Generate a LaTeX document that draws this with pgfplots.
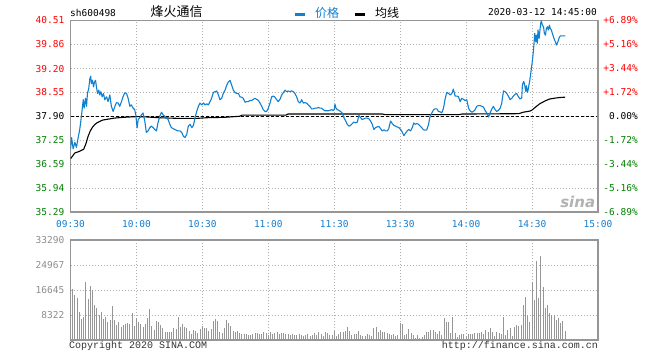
\documentclass[border=0pt]{standalone}
\usepackage{pgfplots}
\pgfplotsset{compat=1.18}
\usepackage{fontspec}
\setmainfont{DejaVu Sans Mono}
\newfontfamily\cjk{Noto Sans CJK SC}
\newfontfamily\cour{Liberation Mono}
\newfontfamily\sinafont{DejaVu Sans}
\definecolor{pblue}{RGB}{16,128,208}
\definecolor{tblue}{RGB}{20,125,205}
\definecolor{gframe}{RGB}{150,150,150}
\definecolor{ggrid}{RGB}{175,175,175}
\definecolor{vbar}{RGB}{150,150,150}
\definecolor{dgreen}{RGB}{0,128,0}
\definecolor{vred}{RGB}{255,0,0}
\newcommand{\tf}{\fontsize{9.5bp}{11bp}\selectfont}
\begin{document}
\begin{tikzpicture}[x=1bp,y=1bp]
\path[use as bounding box] (0,0) rectangle (660,360);
\pgfplotsset{
  chartbase/.style={scale only axis, width=527.5bp, xmin=0, xmax=240,
    axis line style={gframe, line width=1.2bp},
    major tick length=0pt, tick style={draw=none},
    major grid style={ggrid, line width=0.8bp, dash pattern=on 1bp off 2bp},
    ticklabel style={font=\tf},
    scaled ticks=false,
  }
}
% ---------- price panel ----------
\begin{axis}[chartbase, at={(70.5bp,148bp)}, anchor=south west, height=191.5bp,
  ymin=35.29, ymax=40.51,
  xtick={0,30,...,240},
  xticklabels={09:30,10:00,10:30,11:00,11:30,13:30,14:00,14:30,15:00},
  xticklabel style={text=tblue, anchor=north, inner sep=0pt, yshift=-8.5bp},
  ytick={35.29,35.94,36.59,37.25,37.90,38.55,39.20,39.86,40.51},
  yticklabels={\textcolor{dgreen}{35.29},\textcolor{dgreen}{35.94},\textcolor{dgreen}{36.59},\textcolor{dgreen}{37.25},37.90,\textcolor{vred}{38.55},\textcolor{vred}{39.20},\textcolor{vred}{39.86},\textcolor{vred}{40.51}},
  yticklabel style={anchor=east, inner sep=0pt, xshift=-6bp},
  grid=major,
]
\addplot[black, line width=0.9bp, dash pattern=on 3bp off 2bp] coordinates {(0,37.90) (240,37.90)};
% average line
\addplot[black, line width=1.1bp] coordinates {
(0,36.74) (1,36.82) (2,36.90) (3,36.92) (4,36.94) (5,36.97) (6,37.00) (7,37.15) (8,37.35) (9,37.50) (10,37.60) (11,37.67) (12,37.72) (13,37.75) (14,37.78) (15,37.80) (17,37.82) (20,37.85) (24,37.87) (30,37.89) (35,37.88) (40,37.86) (45,37.85) (50,37.84) (57,37.84) (62,37.86) (70,37.87) (77,37.90) (78,37.93) (98,37.93) (99,37.96) (142,37.96) (143,37.945) (177,37.945) (178,37.96) (204,37.97) (206,38.01) (209,38.04) (210,38.07) (212,38.17) (213.5,38.24) (216,38.32) (218,38.37) (220,38.39) (222.5,38.41) (225,38.42)
};
% price line
\addplot[pblue, line width=1.1bp, line join=round] coordinates {
(0,36.99) (0.5,37.32) (1.2,37.01) (2.0,37.19) (2.7,37.05) (3.5,37.32) (4.2,37.54) (4.7,37.77) (5.3,38.08) (5.8,38.35) (6.2,38.12) (6.8,38.39) (7.3,38.17) (7.7,38.52) (8.3,38.66) (8.8,38.92) (9.2,38.99) (9.5,38.79) (10.0,38.88) (10.5,38.70) (10.9,38.83) (11.4,38.88) (11.8,38.70) (12.3,38.52) (12.9,38.61) (13.3,38.48) (13.8,38.57) (14.4,38.43) (15.0,38.52) (15.6,38.35) (16.4,38.43) (17.1,38.30) (17.9,38.48) (18.6,38.17) (19.4,38.03) (20.2,38.17) (20.9,38.27) (21.7,38.26) (22.4,38.17) (23.2,38.30) (23.9,38.43) (24.7,38.54) (25.5,38.52) (26.2,38.39) (27.0,38.17) (27.7,38.21) (28.5,38.12) (29.2,38.08) (29.7,37.94) (30.3,37.58) (30.8,37.81) (31.5,37.86) (32.3,37.94) (33.0,37.99) (33.8,37.77) (34.5,37.46) (35.3,37.50) (36.1,37.59) (36.8,37.63) (37.6,37.59) (38.3,37.54) (39.1,37.50) (39.8,37.72) (40.6,37.90) (41.4,38.01) (42.1,37.94) (42.9,37.90) (43.6,37.86) (44.4,37.81) (45.2,37.68) (45.9,37.59) (47.4,37.54) (48.9,37.50) (49.8,37.50) (50.6,37.46) (51.4,37.35) (52.1,37.32) (52.9,37.41) (53.6,37.63) (54.4,37.68) (55.2,37.59) (55.9,37.65) (56.7,37.86) (57.4,38.03) (58.2,38.17) (58.9,38.26) (59.7,38.21)
(60.5,38.26) (61.2,38.21) (62.0,38.24) (62.7,38.21) (63.5,38.30) (64.2,38.39) (65.0,38.55) (65.8,38.57) (66.5,38.59) (67.3,38.48) (68.0,38.35) (68.8,38.39) (69.5,38.52) (70.3,38.61) (71.1,38.75) (71.8,38.83) (72.6,38.88) (73.3,38.75) (74.1,38.61) (74.8,38.55) (75.6,38.52) (76.4,38.52) (77.1,38.43) (77.9,38.42) (78.6,38.39) (79.4,38.28) (80.2,38.30) (80.9,38.30) (81.7,38.33) (82.4,38.33) (83.2,38.36) (83.9,38.39) (84.7,38.36) (85.5,38.33) (86.2,38.26) (87.0,38.17) (87.7,38.08) (88.5,38.03) (89.2,38.03) (90.0,38.12) (90.8,38.26) (91.5,38.43) (92.3,38.45) (93.0,38.42) (93.8,38.35) (94.5,38.30) (95.3,38.36) (96.1,38.48) (96.8,38.54) (97.6,38.61) (98.3,38.57) (99.1,38.59) (99.8,38.57) (100.6,38.59) (101.4,38.57) (102.1,38.52) (102.9,38.43) (103.6,38.30) (104.4,38.26) (105.2,38.35) (105.9,38.26) (106.7,38.27) (107.4,38.26) (108.2,38.21) (108.9,38.17) (109.7,38.10) (110.5,38.10) (111.2,38.12) (112.0,38.12) (112.7,38.14) (113.5,38.12) (114.2,38.12) (115.0,38.08) (115.8,38.05) (116.5,38.05) (117.3,38.05) (118.0,38.06) (118.8,38.08) (119.5,38.06) (120.0,38.08)
(120.3,38.23) (120.8,38.12) (121.4,38.08) (122.1,38.06) (122.9,38.03) (123.6,37.99) (124.4,37.86) (125.2,37.77) (125.9,37.68) (126.7,37.63) (127.4,37.65) (128.2,37.70) (128.9,37.74) (129.7,37.72) (130.5,37.74) (131.2,37.92) (132.0,37.86) (132.7,37.81) (133.5,37.83) (134.2,37.85) (135.0,37.85) (135.8,37.83) (136.5,37.77) (137.3,37.68) (138.0,37.54) (138.8,37.59) (139.5,37.61) (140.3,37.62) (141.1,37.56) (141.8,37.50) (142.6,37.53) (143.3,37.50) (144.1,37.50) (144.8,37.56) (145.6,37.77) (146.4,37.70) (147.1,37.65) (147.9,37.63) (148.6,37.61) (149.4,37.59) (150.2,37.54) (150.9,37.47) (151.7,37.37) (152.4,37.44) (153.2,37.50) (153.9,37.54) (154.7,37.50) (155.5,37.59) (156.2,37.72) (156.8,37.68) (157.6,37.70) (158.3,37.68) (159.1,37.63) (159.8,37.59) (160.6,37.53) (161.4,37.52) (162.1,37.53) (162.9,37.68) (163.6,37.90) (164.4,37.99) (165.2,38.08) (165.9,38.10) (166.7,38.10) (167.4,38.03) (168.2,38.02) (168.9,37.99) (169.7,38.12) (170.5,38.39) (171.2,38.55) (172.0,38.52) (172.7,38.48) (173.5,38.52) (174.2,38.64) (175.0,38.45) (175.8,38.45) (176.5,38.43) (177.3,38.30) (178.0,38.39) (178.8,38.36) (179.5,38.33)
(180.3,38.35) (181.1,38.12) (181.8,38.05) (182.6,38.01) (183.3,38.03) (184.1,38.08) (184.8,38.17) (185.6,38.19) (186.4,38.19) (187.1,38.17) (187.9,38.15) (188.6,38.06) (189.4,37.99) (190.2,37.88) (190.9,37.99) (191.7,38.10) (192.4,38.17) (193.2,38.08) (193.9,38.03) (194.7,38.06) (195.5,38.12) (196.2,38.26) (197.0,38.59) (197.7,38.57) (198.5,38.52) (199.2,38.45) (200.0,38.35) (200.8,38.39) (201.5,38.45) (202.3,38.50) (203.0,38.52) (203.8,38.43) (204.5,38.37) (205.3,38.40) (205.6,38.76) (206.2,38.85) (206.7,38.73) (207.1,38.58) (207.4,38.73) (207.9,38.55) (208.2,38.62) (208.6,38.76) (208.9,38.85) (209.4,39.07) (209.7,39.21) (210.2,39.44) (210.5,39.62) (210.9,39.89) (211.2,40.16) (211.7,39.93) (212.0,40.11) (212.4,39.89) (212.7,40.25) (213.2,40.02) (213.5,40.20) (213.9,40.43) (214.2,40.50) (214.7,40.38) (215.2,40.34) (215.6,40.16) (216.1,40.11) (216.5,40.29) (217.0,40.34) (217.4,40.25) (217.9,40.38) (218.3,40.29) (218.8,40.25) (219.2,40.16) (219.7,40.07) (220.2,39.98) (220.6,39.93) (221.1,39.84) (221.5,39.89) (222.0,39.98) (222.4,40.05) (222.9,40.09) (225.2,40.09)
};
\end{axis}
% ---------- right percentage labels ----------
\begin{axis}[chartbase, at={(70.5bp,148bp)}, anchor=south west, height=191.5bp,
  ymin=-6.89, ymax=6.89,
  axis x line=none, axis y line*=right,
  xtick=\empty,
  ytick={-6.89,-5.16,-3.44,-1.72,0,1.72,3.44,5.16,6.89},
  yticklabels={\textcolor{dgreen}{-6.89\%},\textcolor{dgreen}{-5.16\%},\textcolor{dgreen}{-3.44\%},\textcolor{dgreen}{-1.72\%},0.00\%,\textcolor{vred}{+1.72\%},\textcolor{vred}{+3.44\%},\textcolor{vred}{+5.16\%},\textcolor{vred}{+6.89\%}},
  yticklabel style={anchor=east, inner sep=0pt, xshift=40bp},
]
\addplot[draw=none] coordinates {(0,0)};
\node[anchor=south east, inner sep=0pt, text=black!30, font=\sinafont\bfseries\itshape\fontsize{15bp}{15bp}\selectfont] at (rel axis cs:0.995,0.02) {sina};
\end{axis}
% ---------- volume panel ----------
\begin{axis}[chartbase, at={(70.5bp,20bp)}, anchor=south west, height=100bp,
  ymin=0, ymax=33290,
  xtick={30,60,...,210}, xticklabels={},
  ytick={8322,16645,24967,33290},
  yticklabels={8322,16645,24967,33290},
  yticklabel style={anchor=east, inner sep=0pt, xshift=-6bp, text=black!45},
  grid=major,
]
\addplot[ycomb, vbar, line width=1bp] coordinates {
(1,17000) (2,15000) (3,14100) (4,9200) (5,7000) (6,7800) (7,19400) (8,13700) (9,18100) (10,16650)
(11,11700) (12,10800) (13,8300) (14,9200) (15,6900) (16,7800) (17,6100) (18,6700) (19,11300) (20,6700)
(21,5000) (22,6100) (23,4400) (24,5000) (25,5300) (26,5500) (27,5200) (28,8900) (29,4700) (30,7200)
(31,6100) (32,5300) (33,4400) (34,5200) (35,7200) (36,10300) (37,4700) (38,3300) (39,6400) (40,6100)
(41,5000) (42,3900) (43,2800) (44,2500) (45,2800) (46,2500) (47,4100) (48,3700) (49,7800) (50,4400)
(51,5300) (52,4400) (53,3900) (54,3000) (55,2000) (56,3300) (57,3000) (58,2200) (59,3500) (60,4800)
(61,4100) (62,3900) (63,3000) (64,3500) (65,6400) (66,6900) (67,6400) (68,2500) (69,2200) (70,3900)
(71,6700) (72,5800) (73,4800) (74,3000) (75,2800) (76,3000) (77,2200) (78,2000) (79,2000) (80,2000)
(81,1700) (82,1700) (83,2000) (84,2200) (85,2200) (86,2000) (87,2000) (88,2500) (89,2200) (90,1700)
(91,2500) (92,2000) (93,2200) (94,2500) (95,2000) (96,2200) (97,2200) (98,2000) (99,2000) (100,1700)
(101,2000) (102,1700) (103,1700) (104,1900) (105,1700) (106,1400) (107,1700) (108,1900) (109,1300) (110,1700)
(111,2200) (112,1700) (113,2500) (114,1900) (115,1300) (116,2800) (117,2200) (118,1700) (119,1700) (120,3000)
(121,1300) (122,1900) (123,2500) (124,2800) (125,3000) (126,4300) (127,3000) (128,1700) (129,2000) (130,1900)
(131,3000) (132,1700) (133,1300) (134,1300) (135,2000) (136,1700) (137,1400) (138,3900) (139,4300) (140,2500)
(141,3200) (142,2800) (143,2500) (144,2200) (145,2000) (146,1700) (147,1900) (148,1300) (149,1700) (150,5500)
(151,5300) (152,1700) (153,2000) (154,3500) (155,2200) (156,1700) (157,600) (158,1700) (159,800) (160,1100)
(161,1700) (162,2800) (163,2800) (164,3200) (165,3200) (166,2800) (167,2000) (168,3000) (169,1700) (170,7200)
(171,6100) (172,6100) (173,2400) (174,7800) (175,2400) (176,1000) (177,1700) (178,1900) (179,2000) (180,1300)
(181,2000) (182,2000) (183,2000) (184,2400) (185,2400) (186,2200) (187,2500) (188,2000) (189,3200) (190,2500)
(191,3900) (192,2800) (193,1300) (194,2500) (195,2200) (196,2000) (197,7800) (198,1700) (199,3200) (200,3900)
(201,1400) (202,4300) (203,5000) (204,4800) (205,5000) (206,11700) (207,14400) (208,8300) (209,6100) (210,19400)
(211,13300) (212,26400) (213,13900) (214,28000) (215,17800) (216,10500) (217,11700) (218,9100) (219,8300) (220,8300)
(221,6700) (222,7200) (223,5800) (224,6400) (225,3000)
};
\end{axis}
% ---------- header and footer texts ----------
\node[anchor=west, inner sep=0pt, font=\tf] at (70,347) {sh600498};
\node[inner sep=0pt, font=\cjk\fontsize{13bp}{13bp}\selectfont] at (176.5,348) {烽火通信};
\draw[pblue, line width=2.5bp] (295,345.5) -- (305,345.5);
\node[anchor=west, inner sep=0pt, text=pblue, font=\cjk\fontsize{12bp}{12bp}\selectfont] at (315,347.5) {价格};
\draw[black, line width=2.5bp] (355,345.5) -- (365,345.5);
\node[anchor=west, inner sep=0pt, font=\cjk\fontsize{12bp}{12bp}\selectfont] at (375,347.5) {均线};
\node[anchor=east, inner sep=0pt, font=\tf] at (597,347.5) {2020-03-12 14:45:00};
\node[anchor=west, inner sep=0pt, text=black!80, font=\cour\fontsize{10bp}{10bp}\selectfont] at (69,14.5) {Copyright 2020 SINA.COM};
\node[anchor=east, inner sep=0pt, text=black!80, font=\cour\fontsize{10bp}{10bp}\selectfont] at (598,14.5) {http://finance.sina.com.cn};
\end{tikzpicture}
\end{document}
